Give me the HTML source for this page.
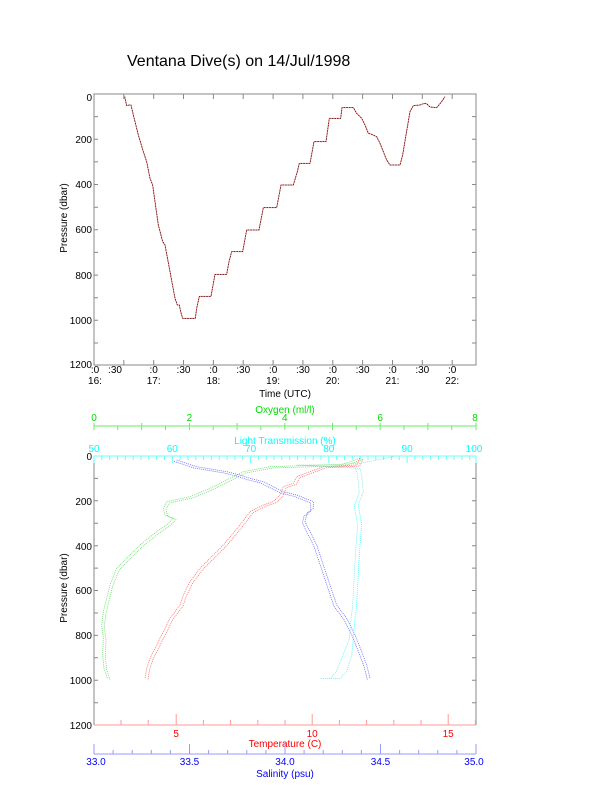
<!DOCTYPE html>
<html><head><meta charset="utf-8"><style>
body{margin:0;background:#fff;}
svg{display:block;font-family:"Liberation Sans",sans-serif;}
</style></head><body>
<svg width="612" height="785" viewBox="0 0 612 785" xmlns="http://www.w3.org/2000/svg">
<rect width="612" height="785" fill="#fff"/>
<text x="127" y="66" font-size="16">Ventana Dive(s) on 14/Jul/1998</text>

<rect x="94" y="94" width="382" height="271" fill="none" stroke="#888" stroke-width="1"/>
<path stroke="#888" stroke-width="1" fill="none" d="
M94 116.6h4M94 139.3h4M94 161.9h4M94 184.5h4M94 207.2h4M94 229.8h4M94 252.4h4M94 275.1h4M94 297.7h4M94 320.3h4M94 343h4
M476 116.6h-4M476 139.3h-4M476 161.9h-4M476 184.5h-4M476 207.2h-4M476 229.8h-4M476 252.4h-4M476 275.1h-4M476 297.7h-4M476 320.3h-4M476 343h-4
M123.8 365v-5M153.7 365v-5M183.5 365v-5M213.4 365v-5M243.2 365v-5M273.1 365v-5M302.9 365v-5M332.8 365v-5M362.6 365v-5M392.5 365v-5M422.3 365v-5M452.2 365v-5
M123.8 94v5M153.7 94v5M183.5 94v5M213.4 94v5M243.2 94v5M273.1 94v5M302.9 94v5M332.8 94v5M362.6 94v5M392.5 94v5M422.3 94v5M452.2 94v5"/>
<g font-size="10" text-anchor="end">
<text x="92" y="101">0</text><text x="92" y="143">200</text><text x="92" y="188">400</text><text x="92" y="233">600</text><text x="92" y="279">800</text><text x="92" y="324">1000</text><text x="92" y="368">1200</text>
</g>
<g font-size="10" text-anchor="middle">
<text x="95" y="373">:0</text><text x="115" y="373">:30</text><text x="153.7" y="373">:0</text><text x="183.5" y="373">:30</text><text x="213.4" y="373">:0</text><text x="243.2" y="373">:30</text><text x="273.1" y="373">:0</text><text x="302.9" y="373">:30</text><text x="332.8" y="373">:0</text><text x="362.6" y="373">:30</text><text x="392.5" y="373">:0</text><text x="422.3" y="373">:30</text><text x="452.2" y="373">:0</text>
<text x="95" y="384">16:</text><text x="153.7" y="384">17:</text><text x="213.4" y="384">18:</text><text x="273.1" y="384">19:</text><text x="332.8" y="384">20:</text><text x="392.5" y="384">21:</text><text x="452.2" y="384">22:</text>
<text x="285" y="397">Time (UTC)</text>
<text transform="translate(67,218) rotate(-90)">Pressure (dbar)</text>
</g>
<g transform="translate(50,85) scale(0.33333)" fill="none" stroke-linejoin="round">
<polyline stroke="#f88" stroke-width="3" points="224,35 230,62 238,60 243,60 250,90 265,150 280,200 290,230 300,280 308,300 315,350 325,420 338,470 345,480 360,560 375,640 382,660 388,660 392,680 398,700 436,700 440,670 448,634 483,634 495,568 530,568 537,530 545,500 578,500 590,435 627,435 640,368 680,368 693,300 730,300 742,260 748,235 780,235 792,170 828,170 838,100 872,100 876,68 910,68 920,85 935,100 945,120 955,145 965,148 980,155 990,175 1000,200 1010,225 1020,240 1050,240 1058,210 1068,150 1080,80 1090,62 1110,60 1120,56 1130,56 1140,66 1160,68 1175,50 1185,35"/>
<polyline stroke="#411" stroke-width="2.2" stroke-dasharray="5 3" points="224,35 230,62 238,60 243,60 250,90 265,150 280,200 290,230 300,280 308,300 315,350 325,420 338,470 345,480 360,560 375,640 382,660 388,660 392,680 398,700 436,700 440,670 448,634 483,634 495,568 530,568 537,530 545,500 578,500 590,435 627,435 640,368 680,368 693,300 730,300 742,260 748,235 780,235 792,170 828,170 838,100 872,100 876,68 910,68 920,85 935,100 945,120 955,145 965,148 980,155 990,175 1000,200 1010,225 1020,240 1050,240 1058,210 1068,150 1080,80 1090,62 1110,60 1120,56 1130,56 1140,66 1160,68 1175,50 1185,35"/>
</g>

<path stroke="#888" fill="none" d="M94 456V725M476 456V725
M94 478.4h4M94 500.8h4M94 523.3h4M94 545.7h4M94 568.1h4M94 590.5h4M94 613h4M94 635.4h4M94 657.8h4M94 680.2h4M94 702.7h4
M476 478.4h-4M476 500.8h-4M476 523.3h-4M476 545.7h-4M476 568.1h-4M476 590.5h-4M476 613h-4M476 635.4h-4M476 657.8h-4M476 680.2h-4M476 702.7h-4"/>
<g font-size="10" text-anchor="end">
<text x="92" y="460">0</text><text x="92" y="505">200</text><text x="92" y="550">400</text><text x="92" y="594">600</text><text x="92" y="639">800</text><text x="92" y="684">1000</text><text x="92" y="729">1200</text>
</g>
<text transform="translate(67,588) rotate(-90)" font-size="10" text-anchor="middle">Pressure (dbar)</text>

<path stroke="#6ff" fill="none" d="M94 456H476
M101.8 456v4M109.7 456v4M117.5 456v4M125.3 456v4M133.2 456v4M141 456v4M148.8 456v4M156.6 456v4M164.5 456v4M180.1 456v4M187.9 456v4M195.8 456v4M203.6 456v4M211.4 456v4M219.2 456v4M227.1 456v4M234.9 456v4M242.7 456v4M258.4 456v4M266.2 456v4M274 456v4M281.8 456v4M289.7 456v4M297.5 456v4M305.3 456v4M313.2 456v4M321 456v4M336.7 456v4M344.5 456v4M352.3 456v4M360.1 456v4M368 456v4M375.8 456v4M383.6 456v4M391.5 456v4M399.3 456v4M414.9 456v4M422.8 456v4M430.6 456v4M438.4 456v4M446.3 456v4M454.1 456v4M461.9 456v4M469.8 456v4
M94 456v7M172.3 456v7M250.6 456v7M328.8 456v7M407.1 456v7M476 456v7"/>
<g font-size="10" fill="#0ff" text-anchor="middle">
<text x="94" y="452">50</text><text x="172.3" y="452">60</text><text x="250.6" y="452">70</text><text x="328.8" y="452">80</text><text x="407.1" y="452">90</text><text x="474" y="452">100</text>
<text x="285" y="444">Light Transmission (%)</text>
</g>

<path stroke="#6e6" fill="none" d="M94 426H476
M117.8 426v4M165.5 426v4M213.2 426v4M260.9 426v4M308.6 426v4M356.3 426v4M404 426v4M451.7 426v4
M94 423v7M141.7 423v7M189.4 423v7M237.1 423v7M284.8 423v7M332.5 423v7M380.2 423v7M427.9 423v7M476 423v7"/>
<g font-size="10" fill="#0d0" text-anchor="middle">
<text x="94" y="421">0</text><text x="189.4" y="421">2</text><text x="284.8" y="421">4</text><text x="380.2" y="421">6</text><text x="475" y="421">8</text>
<text x="285" y="413">Oxygen (ml/l)</text>
</g>

<path stroke="#f99" fill="none" d="M94 725H476
M121 725v-5M148.2 725v-5M203.4 725v-5M230.6 725v-5M257.8 725v-5M285 725v-5M339.4 725v-5M366.6 725v-5M393.8 725v-5M421 725v-5M475.4 725v-5
M176.2 725v-11M312.2 725v-11M448.2 725v-11"/>
<g font-size="10" fill="#f00" text-anchor="middle">
<text x="176.2" y="737">5</text><text x="312.2" y="737">10</text><text x="448.2" y="737">15</text>
<text x="285" y="747">Temperature (C)</text>
</g>

<path stroke="#99f" fill="none" d="M94 754H476
M113.1 754v-4M132.2 754v-4M151.3 754v-4M170.4 754v-4M208.6 754v-4M227.7 754v-4M246.8 754v-4M265.9 754v-4M304.1 754v-4M323.2 754v-4M342.3 754v-4M361.4 754v-4M399.6 754v-4M418.7 754v-4M437.8 754v-4M456.9 754v-4
M94 754v-10M189.5 754v-10M285 754v-10M380.5 754v-10M476 754v-10"/>
<g font-size="10" fill="#00f" text-anchor="middle">
<text x="96" y="765">33.0</text><text x="189.5" y="765">33.5</text><text x="285" y="765">34.0</text><text x="380.5" y="765">34.5</text><text x="474" y="765">35.0</text>
<text x="285" y="777">Salinity (psu)</text>
</g>

<g transform="translate(50,405) scale(0.33333)" fill="none" stroke-linejoin="round" stroke-width="2.2" stroke-dasharray="3 3" opacity="0.75">
<g stroke="#2c2">
<polyline points="930,160 870,180 820,180 660,185 580,200 520,230 480,250 420,275 350,290 340,310 345,330 370,340 350,360 320,380 270,420 230,460 200,490 180,540 170,580 160,620 155,660 160,700 158,750 162,790 172,820"/>
<polyline transform="translate(8,4)" points="930,160 870,180 820,180 660,185 580,200 520,230 480,250 420,275 350,290 340,310 345,330 370,340 350,360 320,380 270,420 230,460 200,490 180,540 170,580 160,620 155,660 160,700 158,750 162,790 172,820"/>
</g>
<g stroke="#f22">
<polyline points="930,160 920,180 820,185 780,200 740,215 730,235 700,245 690,270 670,290 640,300 600,320 570,360 520,420 480,460 450,490 420,530 400,570 390,600 360,640 340,680 320,720 300,760 290,790 285,820"/>
<polyline transform="translate(9,3)" points="930,160 920,180 820,185 780,200 740,215 730,235 700,245 690,270 670,290 640,300 600,320 570,360 520,420 480,460 450,490 420,530 400,570 390,600 360,640 340,680 320,720 300,760 290,790 285,820"/>
</g>
<g stroke="#22f">
<polyline points="380,165 410,175 440,185 470,190 530,200 570,210 600,220 640,230 680,250 700,260 740,270 790,290 790,310 770,330 765,350 780,380 800,420 820,480 840,540 860,600 890,640 915,690 935,740 950,780 960,820"/>
<polyline transform="translate(-8,4)" points="380,165 410,175 440,185 470,190 530,200 570,210 600,220 640,230 680,250 700,260 740,270 790,290 790,310 770,330 765,350 780,380 800,420 820,480 840,540 860,600 890,640 915,690 935,740 950,780 960,820"/>
</g>
<g stroke="#1ee">
<polyline points="1030,155 930,175 820,180 740,180 930,190 935,210 940,260 925,300 935,360 930,420 925,500 920,600 915,640 910,700 905,750 890,800 870,820 810,820"/>
<polyline transform="translate(-12,2)" points="930,190 935,210 940,260 925,300 935,360 930,420 925,500 920,600 915,640 910,700 890,750 870,800 850,820"/>
</g>
</g>
</svg>
</body></html>
